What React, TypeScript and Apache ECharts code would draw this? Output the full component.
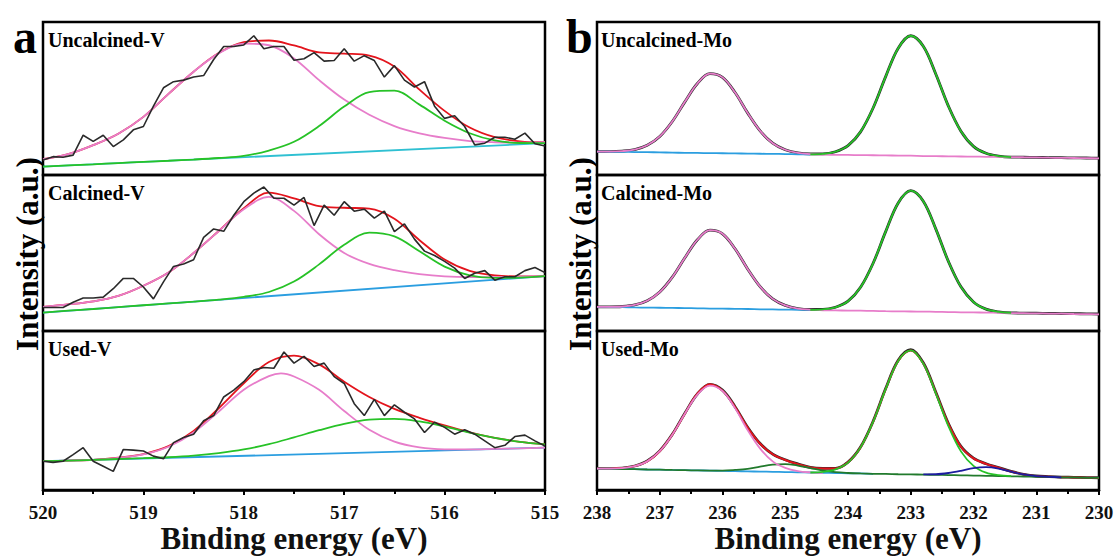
import React, { useEffect, useRef } from 'react';
import * as echarts from 'echarts';

// ---------- Panel a : V 2p (binding energy, eV) ----------
const E_V_RAW = [520.0, 519.9, 519.8, 519.7, 519.6, 519.5, 519.4, 519.3, 519.2, 519.1, 519.0, 518.9, 518.8, 518.7, 518.6, 518.5, 518.4, 518.3, 518.2, 518.1, 518.0, 517.9, 517.8, 517.7, 517.6, 517.5, 517.4, 517.3, 517.2, 517.1, 517.0, 516.9, 516.8, 516.7, 516.6, 516.5, 516.4, 516.3, 516.2, 516.1, 516.0, 515.9, 515.8, 515.7, 515.6, 515.5, 515.4, 515.3, 515.2, 515.1, 515.0];
const E_V_FIT = [520, 519.75, 519.5, 519.25, 519, 518.75, 518.5, 518.25, 518, 517.75, 517.5, 517.25, 517, 516.75, 516.5, 516.25, 516, 515.75, 515.5, 515.25, 515];
const E_V3_PINK = [520, 519.75, 519.5, 519.25, 519, 518.75, 518.5, 518.25, 518, 517.75, 517.63, 517.5, 517.25, 517, 516.75, 516.5, 516.25, 516, 515.75, 515.5, 515.25, 515];
const E_V_ENDS = [520, 515];

const V1_RAW = [9.8, 12, 11.6, 13, 26, 22, 26, 18.6, 23, 29.5, 31.7, 45, 57, 61, 62, 64, 65, 75.5, 84, 84, 85, 91, 82.5, 84, 84, 75, 76, 80, 74.4, 74.8, 82.5, 74.4, 78, 74.8, 64, 71.5, 62, 57.5, 61, 45, 37, 38.7, 31.7, 19.7, 20.8, 24.7, 24.7, 23.4, 27.4, 20.4, 19];
const V1_BASE = [5.5, 20.8];
const V1_PINK = [10.3, 13.6, 19.5, 27, 38, 53, 67.5, 79.5, 85.9, 84.8, 76.2, 62, 49.3, 39.4, 32, 27.2, 24.2, 22.2, 21.4, 21.1, 21.4];
const V1_GREEN = [5.5, 6.3, 7.0, 7.8, 8.6, 9.3, 10.1, 11.1, 12.5, 16, 21.7, 32, 44.7, 54.2, 55.1, 46, 35.5, 27.3, 22.6, 20.9, 20.8];
const V1_RED = [10.3, 13.6, 19.5, 27, 38, 53, 67.5, 79.7, 86.8, 87.9, 84.7, 80.1, 79.3, 78.1, 70.9, 55.8, 41.9, 31, 24.7, 22, 21.4];

const V2_RAW = [15.1, 15.1, 15.1, 18.4, 21.2, 21.2, 21.7, 27.1, 33.7, 33.7, 28.2, 20.6, 31.5, 41.4, 42.9, 45.7, 60, 65.4, 63.9, 74.2, 82.9, 88.4, 92.3, 85.1, 85.1, 80.7, 85.6, 67.6, 80.7, 74.2, 82.9, 76.8, 78.1, 72.4, 76.8, 63.7, 68.7, 58.9, 51.2, 48.4, 44.6, 40.3, 33.7, 37, 38.7, 32.6, 34.8, 34.8, 38.7, 40.7, 37.4];
const V2_BASE = [11.8, 35.2];
const V2_PINK = [15.5, 17, 19, 22.5, 29, 37.5, 50, 64, 78, 86, 77, 62, 50, 43, 39, 36.5, 35, 34.5, 34.5, 34.8, 35.2];
const V2_GREEN = [11.8, 13.0, 14.1, 15.3, 16.5, 17.7, 18.8, 20.1, 21.9, 25, 31.7, 42.7, 55.3, 63, 60.6, 51.1, 41.3, 35.7, 34, 34.2, 35.2];
const V2_RED = [15.5, 17, 19, 22.5, 29, 37.5, 50, 64.1, 78.7, 88.7, 85, 80, 79, 78.5, 72, 58.2, 45.8, 38.5, 35.6, 35, 35.2];

const V3_RAW = [18.1, 17.4, 18.1, 22.3, 26.6, 18.1, 14.9, 11.7, 25.5, 25.1, 24.5, 21.3, 19.6, 29.8, 33, 35.1, 43.6, 46.8, 58.5, 62.8, 68.1, 75.5, 77, 76.6, 86.8, 79.8, 84, 77.7, 79.8, 71.3, 67, 54.3, 46.8, 57, 46.8, 53.6, 48.9, 44.7, 36.2, 42.6, 39.4, 35.1, 37.9, 35.1, 30.9, 26.6, 28.1, 33.6, 34.5, 30.9, 27.7];
const V3_BASE = [18.1, 26.6];
const V3_PINK = [18.1, 18.5, 18.9, 20.2, 22.4, 27.2, 36.2, 49.3, 63.1, 71.6, 73.4, 71.4, 63, 49.7, 37.9, 30.4, 26.8, 25.6, 25.5, 25.9, 26.2, 26.6];
const V3_GREEN = [18.1, 18.5, 18.9, 19.5, 20, 20.6, 21.6, 23.2, 25.5, 28.8, 33.1, 37.6, 41.6, 44.2, 44.7, 43.1, 39.9, 36.1, 32.8, 30.3, 28.7];
const V3_RED = [18.1, 18.5, 18.9, 20.3, 22.6, 27.6, 37.2, 51.4, 67.1, 80.5, 84.5, 79, 68.1, 58.5, 51, 45.4, 40.6, 36.3, 32.8, 30.3, 28.7];

// ---------- Panel b : Mo 3d ----------
const E_MO = [238, 237.8, 237.6, 237.4, 237.2, 237, 236.8, 236.6, 236.4, 236.2, 236, 235.8, 235.6, 235.4, 235.2, 235, 234.8, 234.6, 234.4, 234.2, 234, 233.8, 233.6, 233.4, 233.2, 233, 232.8, 232.6, 232.4, 232.2, 232, 231.8, 231.6, 231.4, 231.2, 231, 230.8, 230.6, 230.4, 230.2, 230];
const _ = null;

const MO1_BLACK = [15.3, 15.3, 15.6, 16.6, 19.4, 25.2, 35, 47.8, 59.8, 66.2, 63.8, 53.9, 40.6, 28.8, 20.8, 16.5, 14.4, 13.8, 13.8, 15.2, 19.2, 28.2, 43.8, 64.3, 82.9, 91, 84.1, 65.9, 45, 28.6, 18.7, 14.2, 12.4, 11.7, 11.6, 11.5, 11.4, 11.3, 11.2, 11.1, 11.0];
const MO1_BASE = [15.3, 15.2, 15.1, 15.0, 14.9, 14.8, 14.6, 14.5, 14.4, 14.3, 14.2, 14.1, 14.0, 13.9, 13.8, 13.7, 13.5, 13.4, _, _, _, _, _, _, _, _, _, _, _, _, _, _, _, _, _, _, _, _, _, _, _];
const MO1_PINK = [15.3, 15.3, 15.6, 16.6, 19.4, 25.2, 35, 47.8, 59.8, 66.2, 63.8, 53.9, 40.6, 28.8, 20.8, 16.5, 14.4, 13.7, 13.3, 13.2, 13.1, 13.0, 12.9, 12.8, 12.7, 12.6, 12.4, 12.3, 12.2, 12.1, 12.0, 11.9, 11.8, 11.7, 11.6, 11.5, 11.3, 11.2, 11.1, 11.0, 10.9];
const MO1_GREEN = [_, _, _, _, _, _, _, _, _, _, _, _, _, _, _, _, _, 13.5, 13.8, 15.2, 19.2, 28.2, 43.8, 64.3, 82.9, 91, 84.1, 65.9, 45, 28.6, 18.7, 14.2, 12.4, 11.7, _, _, _, _, _, _, _];

const MO2_BLACK = [15.5, 15.5, 15.7, 16.7, 19.4, 25.0, 34.5, 46.9, 58.5, 64.6, 62.3, 52.7, 39.8, 28.4, 20.6, 16.4, 14.4, 13.8, 13.8, 15.2, 19.1, 28.0, 43.4, 63.7, 82.1, 90.0, 83.2, 65.3, 44.6, 28.3, 18.6, 14.0, 12.3, 11.6, 11.5, 11.4, 11.3, 11.2, 11.1, 11.0, 10.9];
const MO2_BASE = [15.5, 15.4, 15.3, 15.1, 15.0, 14.9, 14.8, 14.7, 14.5, 14.4, 14.3, 14.2, 14.1, 13.9, 13.8, 13.7, 13.6, 13.5, _, _, _, _, _, _, _, _, _, _, _, _, _, _, _, _, _, _, _, _, _, _, _];
const MO2_PINK = [15.5, 15.5, 15.7, 16.7, 19.4, 25.0, 34.5, 46.9, 58.5, 64.6, 62.3, 52.7, 39.8, 28.4, 20.6, 16.4, 14.4, 13.7, 13.3, 13.2, 13.1, 13.0, 12.9, 12.7, 12.6, 12.5, 12.4, 12.3, 12.1, 12.0, 11.9, 11.8, 11.7, 11.5, 11.4, 11.3, 11.2, 11.1, 10.9, 10.8, 10.7];
const MO2_GREEN = [_, _, _, _, _, _, _, _, _, _, _, _, _, _, _, _, _, 13.6, 13.9, 15.2, 19.1, 28.0, 43.4, 63.7, 82.1, 90.0, 83.2, 65.3, 44.6, 28.3, 18.6, 14.0, 12.3, 11.7, _, _, _, _, _, _, _];

const MO3_BLACK = [13.6, 13.5, 13.8, 15.1, 18.2, 24.6, 35.0, 48.3, 60.4, 66.4, 62.8, 52.4, 39.5, 29.2, 22.6, 19.0, 16.4, 14.2, 13.6, 13.6, 17.5, 27.0, 43.2, 63.8, 81.6, 88.3, 80.0, 61.4, 41.8, 27.4, 20.0, 16.5, 14.1, 11.7, 9.9, 8.8, 8.4, 8.1, 8.0, 7.8, 7.7];
const MO3_RED = [13.5, 13.5, 13.8, 15.0, 18.0, 24.4, 34.8, 48.0, 60.6, 66.5, 62.5, 52.2, 39.3, 29.1, 22.5, 18.9, 16.3, 14.1, 13.5, 13.5, 17.4, 26.8, 42.9, 63.4, 81.2, 87.8, 79.6, 61.1, 41.5, 27.2, 19.9, 16.4, 14.0, 11.6, 9.8, 8.7, 8.3, 8.0, 7.9, 7.7, 7.6];
const MO3_BASE = [13.5, 13.4, 13.2, 13.1, 12.9, 12.8, 12.6, 12.5, 12.3, 12.2, 12.0, 11.9, 11.7, 11.6, 11.4, 11.3, 11.1, 11.0, 10.8, 10.7, 10.5, 10.4, 10.2, _, _, _, _, _, _, _, _, _, _, _, _, _, _, _, _, _, _];
const MO3_DKGREEN = [13.5, 13.4, 13.2, 13.1, 12.9, 12.8, 12.6, 12.5, 12.3, 12.2, 12.2, 12.6, 13.3, 14.7, 15.9, 16.3, 15.4, 13.8, 12.2, 11.2, 10.7, 10.4, 10.2, 10.1, 9.9, 9.8, 9.7, 9.5, 9.4, 9.2, 9.1, 8.9, 8.8, 8.6, 8.5, 8.3, 8.2, 8.0, 7.9, 7.7, 7.6];
const MO3_PINK = [13.5, 13.5, 13.8, 15.0, 18.0, 24.4, 34.8, 48.0, 60.0, 65.7, 62.3, 51.5, 37.7, 26.0, 18.0, 13.9, 11.9, 11.1, 10.8, _, _, _, _, _, _, _, _, _, _, _, _, _, _, _, _, _, _, _, _, _, _];
const MO3_GREEN = [_, _, _, _, _, _, _, _, _, _, _, _, _, _, _, _, _, 11.0, 11.4, 13.0, 17.2, 26.8, 42.9, 63.4, 81.2, 87.8, 79.5, 60.7, 40.2, 24.3, 15.2, 10.9, 9.3, 8.7, _, _, _, _, _, _, _];
const MO3_BLUE = [_, _, _, _, _, _, _, _, _, _, _, _, _, _, _, _, _, _, _, _, _, _, _, _, _, _, 9.8, 9.9, 10.7, 12.1, 13.8, 14.4, 13.5, 11.5, 9.8, 8.7, 8.3, 8.0, _, _, _];

const SUB_LABELS_A = ['Uncalcined-V', 'Calcined-V', 'Used-V'];
const SUB_LABELS_B = ['Uncalcined-Mo', 'Calcined-Mo', 'Used-Mo'];
const X_TITLE = 'Binding energy (eV)';
const Y_TITLE = 'Intensity (a.u.)';

const FONT = '"Liberation Serif", "Times New Roman", Times, serif';
const C_BLACK = '#2a2a2a';
const C_RED = '#e3141c';
const C_PINK = '#e77dca';
const C_GREEN = '#27c227';
const C_CYAN = '#2fc0d2';
const C_BLUE = '#2b9ee0';
const C_DKGREEN = '#217a2c';
const C_NAVY = '#1c1c9e';

const PANEL_LEFT = [43, 597];
const PANEL_W = 502;
const ROW_TOP = [22, 175, 331];
const ROW_H = [153, 156, 159];

function pairs(xs: number[], ys: (number | null)[]) {
  return xs.map((x, i) => [x, ys[i]]);
}

function line(g: number, xs: number[], ys: (number | null)[], color: string, width: number, smooth: boolean) {
  return {
    type: 'line',
    xAxisIndex: g,
    yAxisIndex: g,
    data: pairs(xs, ys),
    showSymbol: false,
    symbol: 'none',
    smooth: smooth ? 0.35 : false,
    connectNulls: false,
    lineStyle: { color, width },
    silent: true,
  };
}

export default function App() {
  const ref = useRef<HTMLDivElement>(null);
  useEffect(() => {
    document.body.style.margin = '0';
    const chart = echarts.init(ref.current!, null, { renderer: 'svg' });

    const grids: any[] = [];
    const xAxes: any[] = [];
    const yAxes: any[] = [];
    for (let p = 0; p < 2; p++) {
      for (let r = 0; r < 3; r++) {
        const g = p * 3 + r;
        grids.push({
          left: PANEL_LEFT[p],
          top: ROW_TOP[r],
          width: PANEL_W,
          height: ROW_H[r],
          show: true,
          borderColor: '#000',
          borderWidth: 2.5,
          backgroundColor: 'transparent',
          containLabel: false,
          outerBoundsMode: 'none',
        });
        const bottom = r === 2;
        xAxes.push({
          gridIndex: g,
          type: 'value',
          min: p === 0 ? 515 : 230,
          max: p === 0 ? 520 : 238,
          interval: 1,
          inverse: true,
          show: bottom,
          axisLine: { show: true, lineStyle: { color: '#000', width: 2.5 } },
          axisTick: { show: true, length: 5, lineStyle: { color: '#000', width: 2 } },
          minorTick: { show: true, splitNumber: 2, length: 4, lineStyle: { color: '#000', width: 2 } },
          splitLine: { show: false },
          minorSplitLine: { show: false },
          axisLabel: { fontSize: 19, fontWeight: 'bold', fontFamily: FONT, color: '#111', margin: 13 },
          name: bottom ? X_TITLE : '',
          nameLocation: 'middle',
          nameGap: 33,
          nameTextStyle: { fontSize: 31, fontWeight: 'bold', fontFamily: FONT, color: '#111' },
        });
        yAxes.push({
          gridIndex: g,
          type: 'value',
          min: 0,
          max: 100,
          show: false,
          splitLine: { show: false },
        });
      }
    }

    const series: any[] = [
      // a1
      line(0, E_V_ENDS, V1_BASE, C_CYAN, 1.8, false),
      line(0, E_V_FIT, V1_RED, C_RED, 1.8, true),
      line(0, E_V_FIT, V1_PINK, C_PINK, 1.8, true),
      line(0, E_V_FIT, V1_GREEN, C_GREEN, 1.8, true),
      line(0, E_V_RAW, V1_RAW, C_BLACK, 1.6, false),
      // a2
      line(1, E_V_ENDS, V2_BASE, C_BLUE, 1.8, false),
      line(1, E_V_FIT, V2_RED, C_RED, 1.8, true),
      line(1, E_V_FIT, V2_PINK, C_PINK, 1.8, true),
      line(1, E_V_FIT, V2_GREEN, C_GREEN, 1.8, true),
      line(1, E_V_RAW, V2_RAW, C_BLACK, 1.6, false),
      // a3
      line(2, E_V_ENDS, V3_BASE, C_BLUE, 1.8, false),
      line(2, E_V_FIT, V3_RED, C_RED, 1.8, true),
      line(2, E_V3_PINK, V3_PINK, C_PINK, 1.8, true),
      line(2, E_V_FIT, V3_GREEN, C_GREEN, 1.8, true),
      line(2, E_V_RAW, V3_RAW, C_BLACK, 1.6, false),
      // b1
      line(3, E_MO, MO1_BLACK, C_BLACK, 2.8, true),
      line(3, E_MO, MO1_BASE, C_BLUE, 1.8, true),
      line(3, E_MO, MO1_PINK, C_PINK, 1.8, true),
      line(3, E_MO, MO1_GREEN, C_GREEN, 1.8, true),
      // b2
      line(4, E_MO, MO2_BLACK, C_BLACK, 2.8, true),
      line(4, E_MO, MO2_BASE, C_BLUE, 1.8, true),
      line(4, E_MO, MO2_PINK, C_PINK, 1.8, true),
      line(4, E_MO, MO2_GREEN, C_GREEN, 1.8, true),
      // b3
      line(5, E_MO, MO3_BLACK, C_BLACK, 2.8, true),
      line(5, E_MO, MO3_RED, C_RED, 2, true),
      line(5, E_MO, MO3_BASE, C_BLUE, 1.8, true),
      line(5, E_MO, MO3_DKGREEN, C_DKGREEN, 1.8, true),
      line(5, E_MO, MO3_PINK, C_PINK, 1.8, true),
      line(5, E_MO, MO3_GREEN, C_GREEN, 1.8, true),
      line(5, E_MO, MO3_BLUE, C_NAVY, 1.8, true),
    ];

    const textStyle = (text: string, size: number, extra: any = {}) => ({
      text,
      fontSize: size,
      fontWeight: 'bold',
      fontFamily: FONT,
      fill: '#000',
      ...extra,
    });

    const graphics: any[] = [
      { type: 'text', x: 13, y: 36, style: textStyle('a', 48, { verticalAlign: 'middle' }) },
      { type: 'text', x: 566, y: 36, style: textStyle('b', 48, { verticalAlign: 'middle' }) },
      { type: 'text', x: 27, y: 254, rotation: Math.PI / 2, style: textStyle(Y_TITLE, 31, { align: 'center', verticalAlign: 'middle' }) },
      { type: 'text', x: 580, y: 254, rotation: Math.PI / 2, style: textStyle(Y_TITLE, 31, { align: 'center', verticalAlign: 'middle' }) },
    ];
    for (let r = 0; r < 3; r++) {
      graphics.push({ type: 'text', x: PANEL_LEFT[0] + 5, y: ROW_TOP[r] + 18, style: textStyle(SUB_LABELS_A[r], 20, { verticalAlign: 'middle' }) });
      graphics.push({ type: 'text', x: PANEL_LEFT[1] + 4, y: ROW_TOP[r] + 18, style: textStyle(SUB_LABELS_B[r], 20, { verticalAlign: 'middle' }) });
    }

    chart.setOption({
      animation: false,
      backgroundColor: '#ffffff',
      grid: grids,
      xAxis: xAxes,
      yAxis: yAxes,
      series,
      graphic: graphics,
    });
    return () => chart.dispose();
  }, []);
  return <div ref={ref} style={{ width: 1118, height: 556 }} />;
}
